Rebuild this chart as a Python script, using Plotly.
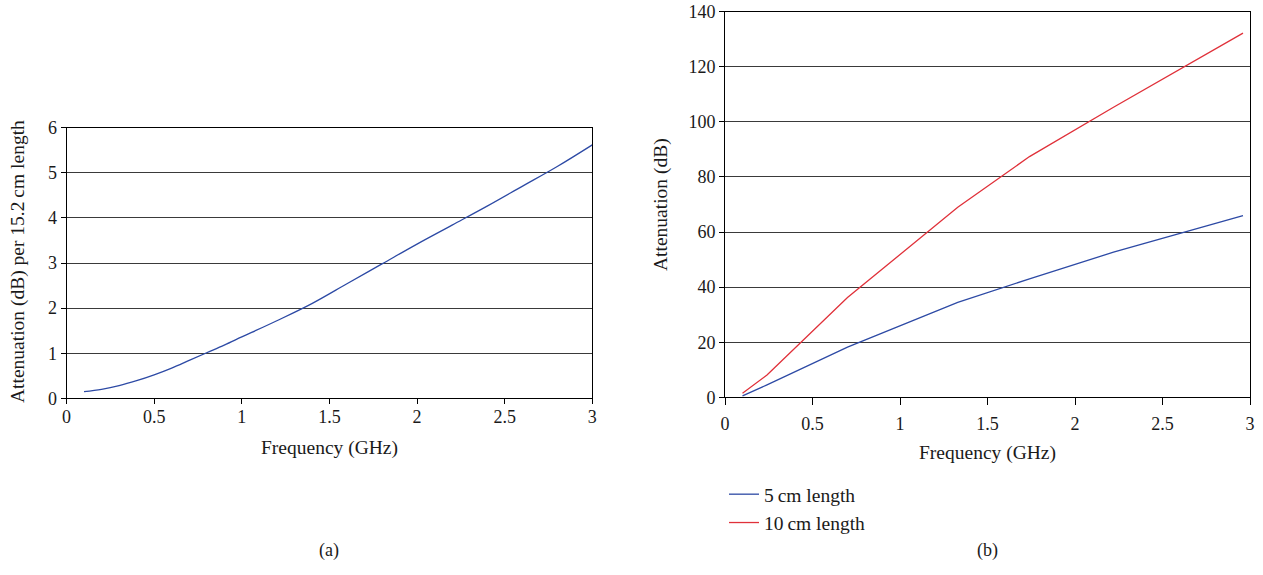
import plotly.graph_objects as go

# (a) attenuation per 15.2 cm length
freq_a = [0.1, 0.2, 0.3, 0.4, 0.5, 0.6, 0.7, 0.8, 0.9, 1.0, 1.2, 1.4, 1.6, 1.8, 2.0, 2.2, 2.4, 2.6, 2.8, 3.0]
att_a = [0.15, 0.2, 0.28, 0.39, 0.52, 0.67, 0.84, 1.01, 1.18, 1.36, 1.72, 2.1, 2.54, 2.98, 3.42, 3.84, 4.26, 4.7, 5.14, 5.62]

# (b) attenuation for two lengths
freq_b = [0.1, 0.24, 0.7, 1.33, 1.74, 2.22, 2.96]
att_5cm = [0.5, 4.5, 18.2, 34.5, 43.0, 52.7, 66.0]
att_10cm = [1.5, 8.1, 36.2, 69.0, 87.4, 105.3, 132.2]

x_ticks = [0, 0.5, 1, 1.5, 2, 2.5, 3]
x_ticklabels = ["0", "0.5", "1", "1.5", "2", "2.5", "3"]

W, H = 1263, 575
FONT = "Liberation Serif"
BLUE = "#2d4aa5"
RED = "#e0313a"
GRID = "#3a3a3a"
TXT = "#1a1a1a"
TICKSIZE = 18
TITLESIZE = 19.5

fig = go.Figure()
fig.add_trace(go.Scatter(x=freq_a, y=att_a, mode="lines", line=dict(color=BLUE, width=1.3, shape="spline", smoothing=1.0),
                         xaxis="x", yaxis="y", showlegend=False))
fig.add_trace(go.Scatter(x=freq_b, y=att_5cm, mode="lines", line=dict(color=BLUE, width=1.3),
                         xaxis="x2", yaxis="y2", name="5\u2009cm length"))
fig.add_trace(go.Scatter(x=freq_b, y=att_10cm, mode="lines", line=dict(color=RED, width=1.3),
                         xaxis="x2", yaxis="y2", name="10\u2009cm length"))

def px_x(p):
    return p / W

def px_y(p):
    return 1 - p / H

xcommon = dict(tickmode="array", tickvals=x_ticks, ticktext=x_ticklabels, range=[0, 3],
               showgrid=False, zeroline=False, showline=True, linecolor="black", linewidth=1,
               mirror=True, ticks="outside", tickcolor="black", automargin=False,
               tickfont=dict(family=FONT, size=TICKSIZE, color=TXT))
ycommon = dict(showgrid=True, gridcolor=GRID, gridwidth=1, zeroline=False, showline=True,
               linecolor="black", linewidth=1, mirror=True, ticks="outside", ticklen=5,
               tickcolor="black", automargin=False, tickfont=dict(family=FONT, size=TICKSIZE, color=TXT))

def ann(text, x, y, size, angle=0):
    return dict(text=text, x=px_x(x), y=px_y(y), xref="paper", yref="paper", xanchor="center",
                yanchor="middle", textangle=angle, showarrow=False,
                font=dict(family=FONT, size=size, color=TXT))

fig.update_layout(
    width=W, height=H, margin=dict(l=0, r=0, t=0, b=0, autoexpand=False),
    paper_bgcolor="white", plot_bgcolor="white",
    font=dict(family=FONT, size=TICKSIZE, color=TXT),
    xaxis=dict(domain=[px_x(66.5), px_x(592.3)], anchor="y", ticklen=5, ticklabelstandoff=-3, **xcommon),
    yaxis=dict(domain=[px_y(398.3), px_y(127.7)], anchor="x", range=[0, 6], dtick=1, **ycommon),
    xaxis2=dict(domain=[px_x(725), px_x(1250)], anchor="y2", ticklen=7, ticklabelstandoff=3, **xcommon),
    yaxis2=dict(domain=[px_y(397.3), px_y(11.7)], anchor="x2", range=[0, 140], dtick=20, **ycommon),
    legend=dict(x=px_x(724), y=px_y(475), xanchor="left", yanchor="top",
                font=dict(family=FONT, size=TITLESIZE, color=TXT), bgcolor="rgba(0,0,0,0)",
                tracegroupgap=0, itemwidth=30),
    annotations=[
        ann("Attenuation (dB) per 15.2\u2009cm length", 18, 262, TITLESIZE, -90),
        ann("Frequency (GHz)", 329, 448, TITLESIZE),
        ann("(a)", 329, 550, TICKSIZE),
        ann("Attenuation (dB)", 661, 205, TITLESIZE, -90),
        ann("Frequency (GHz)", 987, 453, TITLESIZE),
        ann("(b)", 987, 550, TICKSIZE),
    ],
)

fig.write_html("out.html")
